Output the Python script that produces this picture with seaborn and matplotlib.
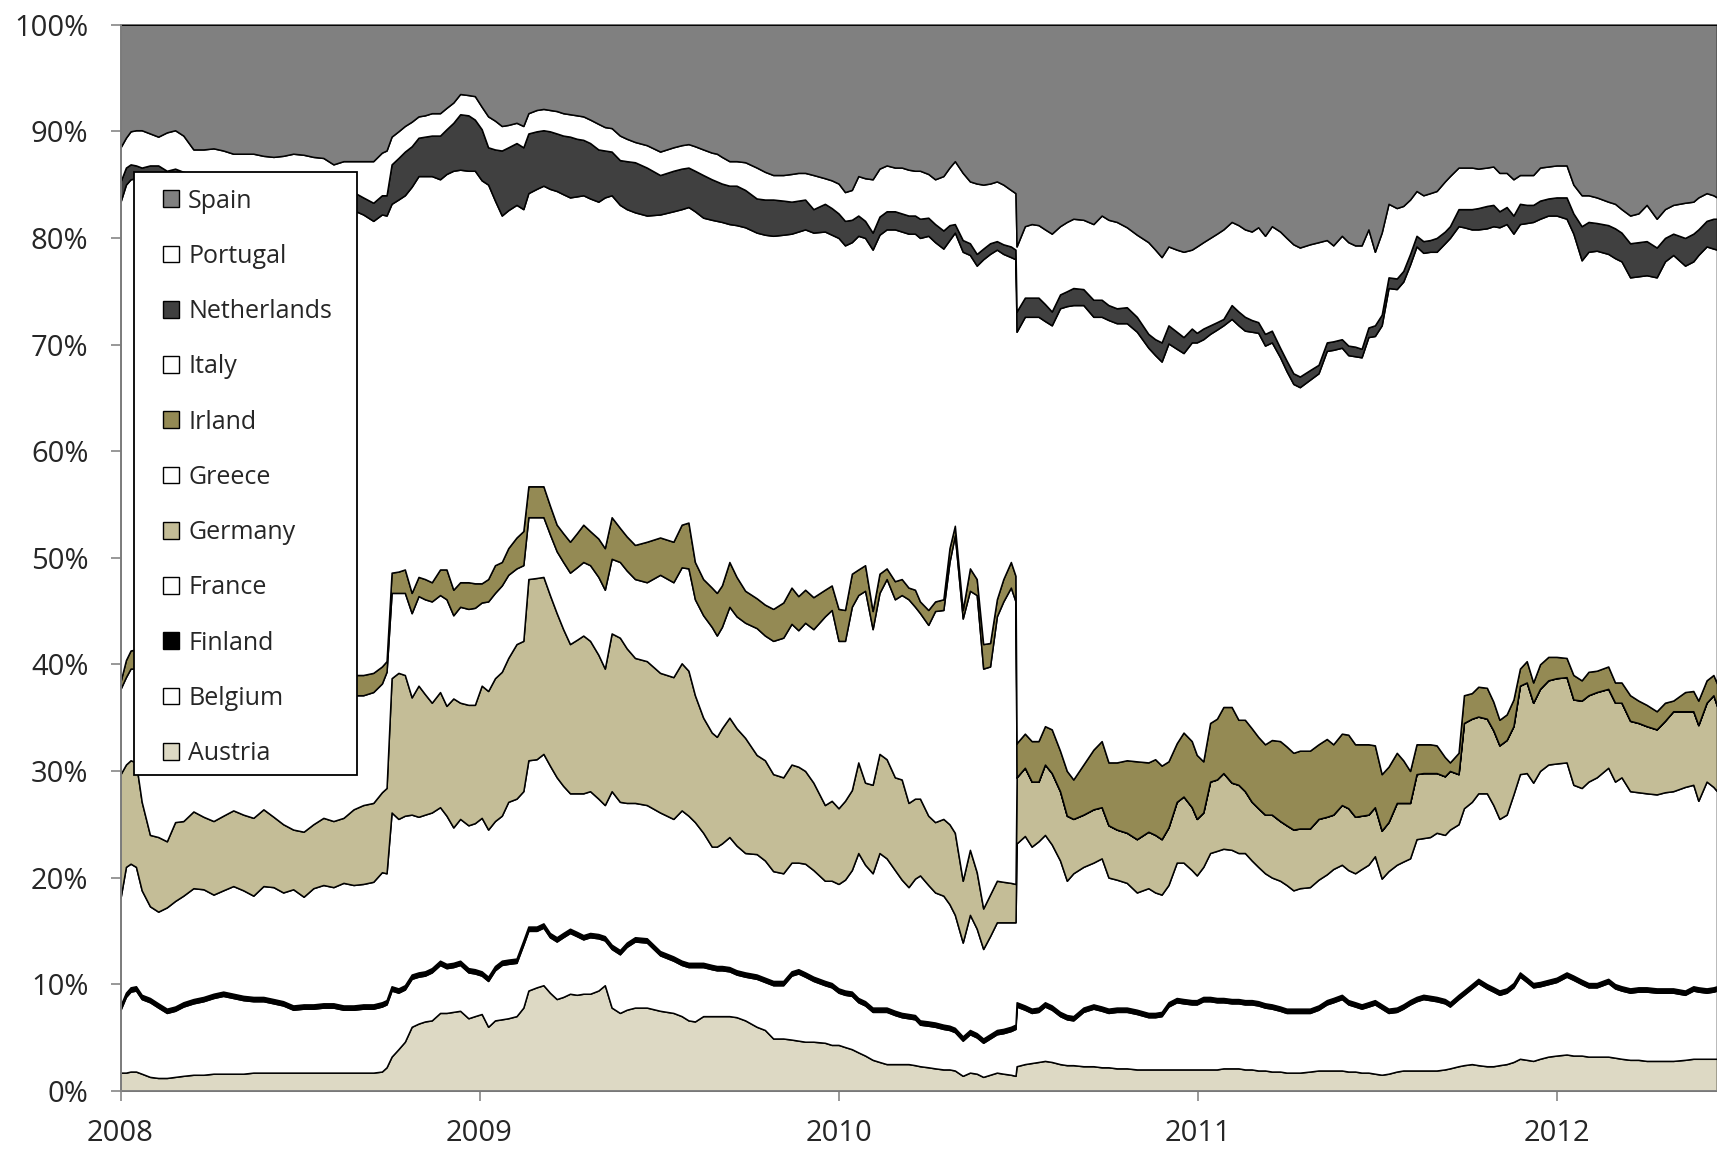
import numpy as np
import matplotlib
matplotlib.use("Agg")
import matplotlib.pyplot as plt
from matplotlib.patches import Patch, Rectangle
import seaborn as sns

# time axis in decimal years (weekly observations)
t = [2008.000, 2008.015, 2008.028, 2008.043, 2008.059, 2008.082, 2008.105, 2008.129, 2008.152, 2008.175,
     2008.203, 2008.231, 2008.259, 2008.286, 2008.314, 2008.342, 2008.370, 2008.398, 2008.426, 2008.453,
     2008.481, 2008.510, 2008.537, 2008.565, 2008.593, 2008.621, 2008.649, 2008.676, 2008.704, 2008.728,
     2008.741, 2008.755, 2008.774, 2008.792, 2008.811, 2008.830, 2008.848, 2008.867, 2008.890, 2008.908,
     2008.927, 2008.946, 2008.969, 2008.987, 2009.006, 2009.024, 2009.043, 2009.062, 2009.080, 2009.103,
     2009.122, 2009.136, 2009.159, 2009.178, 2009.196, 2009.215, 2009.233, 2009.252, 2009.271, 2009.289,
     2009.308, 2009.331, 2009.349, 2009.368, 2009.391, 2009.410, 2009.433, 2009.466,
     2009.503, 2009.540, 2009.563, 2009.582, 2009.600, 2009.623, 2009.647, 2009.661, 2009.675, 2009.696,
     2009.716, 2009.740, 2009.772, 2009.795, 2009.818, 2009.846, 2009.869, 2009.888, 2009.907, 2009.930,
     2009.962, 2009.981, 2010.000, 2010.018, 2010.037, 2010.055, 2010.074, 2010.095, 2010.114, 2010.134,
     2010.157, 2010.176, 2010.195, 2010.213,
     2010.227, 2010.250, 2010.269, 2010.292, 2010.309, 2010.324, 2010.346, 2010.366, 2010.385, 2010.403,
     2010.422, 2010.441, 2010.459, 2010.480, 2010.493, 2010.496, 2010.519, 2010.538, 2010.557, 2010.575,
     2010.594, 2010.617, 2010.636, 2010.654, 2010.682, 2010.710, 2010.733, 2010.752, 2010.775, 2010.803,
     2010.831, 2010.863, 2010.882, 2010.900, 2010.919, 2010.942, 2010.961, 2010.984,
     2010.998, 2011.016, 2011.035, 2011.054, 2011.072, 2011.095, 2011.114, 2011.132, 2011.151, 2011.169,
     2011.188, 2011.207, 2011.230, 2011.248, 2011.267, 2011.285, 2011.313, 2011.337, 2011.360, 2011.378,
     2011.402, 2011.420, 2011.439, 2011.457, 2011.476, 2011.494, 2011.513, 2011.532, 2011.555, 2011.573,
     2011.592, 2011.610, 2011.629, 2011.648, 2011.666,
     2011.689, 2011.703, 2011.727, 2011.742, 2011.764, 2011.782, 2011.806, 2011.824, 2011.841, 2011.861,
     2011.880, 2011.898, 2011.917, 2011.935, 2011.954, 2011.977, 2012.000, 2012.028, 2012.047, 2012.070,
     2012.089, 2012.112, 2012.144, 2012.163, 2012.181, 2012.205, 2012.228, 2012.251, 2012.279, 2012.302,
     2012.325, 2012.358, 2012.381, 2012.395, 2012.418, 2012.437, 2012.447]

# Upper edge (cumulative %) of each country's band, bottom to top
austria_upper = [1.7, 1.7, 1.8, 1.8, 1.6, 1.3, 1.2, 1.2, 1.3, 1.4,
                 1.5, 1.5, 1.6, 1.6, 1.6, 1.6, 1.7, 1.7, 1.7, 1.7,
                 1.7, 1.7, 1.7, 1.7, 1.7, 1.7, 1.7, 1.7, 1.7, 1.8,
                 2.2, 3.2, 3.9, 4.6, 6.0, 6.3, 6.5, 6.6, 7.3, 7.3,
                 7.4, 7.5, 6.8, 7.0, 7.2, 6.0, 6.6, 6.7, 6.8, 7.0,
                 7.8, 9.4, 9.7, 9.9, 9.2, 8.6, 8.8, 9.1, 9.0, 9.1,
                 9.1, 9.4, 9.9, 7.8, 7.3, 7.6, 7.8, 7.8,
                 7.5, 7.3, 7.0, 6.6, 6.5, 7.0, 7.0, 7.0, 7.0, 7.0,
                 6.9, 6.6, 6.0, 5.7, 4.9, 4.9, 4.8, 4.7, 4.6, 4.6,
                 4.5, 4.3, 4.3, 4.1, 3.9, 3.6, 3.3, 2.9, 2.7, 2.5,
                 2.5, 2.5, 2.5, 2.4,
                 2.3, 2.2, 2.1, 2.0, 2.0, 1.9, 1.4, 1.7, 1.6, 1.3,
                 1.5, 1.7, 1.6, 1.5, 1.4, 2.3, 2.5, 2.6, 2.7, 2.8,
                 2.7, 2.5, 2.4, 2.4, 2.3, 2.3, 2.2, 2.2, 2.1, 2.1,
                 2.0, 2.0, 2.0, 2.0, 2.0, 2.0, 2.0, 2.0,
                 2.0, 2.0, 2.0, 2.0, 2.1, 2.1, 2.1, 2.0, 2.0, 1.9,
                 1.9, 1.8, 1.8, 1.7, 1.7, 1.7, 1.8, 1.9, 1.9, 1.9,
                 1.9, 1.8, 1.8, 1.7, 1.7, 1.6, 1.5, 1.6, 1.8, 1.9,
                 1.9, 1.9, 1.9, 1.9, 1.9,
                 2.0, 2.1, 2.3, 2.4, 2.5, 2.4, 2.3, 2.3, 2.4, 2.5,
                 2.7, 3.0, 2.9, 2.8, 3.0, 3.2, 3.3, 3.4, 3.3, 3.3,
                 3.2, 3.2, 3.2, 3.1, 3.0, 2.9, 2.9, 2.8, 2.8, 2.8,
                 2.8, 2.9, 3.0, 3.0, 3.0, 3.0, 3.0]

belgium_upper = [7.6, 8.8, 9.3, 9.4, 8.6, 8.3, 7.8, 7.3, 7.5, 7.9,
                 8.2, 8.4, 8.7, 8.9, 8.7, 8.5, 8.4, 8.4, 8.2, 8.0,
                 7.6, 7.7, 7.7, 7.8, 7.8, 7.6, 7.6, 7.7, 7.7, 7.9,
                 8.1, 9.4, 9.2, 9.5, 10.5, 10.7, 10.8, 11.1, 11.8, 11.5,
                 11.6, 11.8, 11.1, 11.0, 10.8, 10.3, 11.3, 11.8, 11.9, 12.0,
                 13.7, 15.0, 15.0, 15.3, 14.4, 14.0, 14.4, 14.8, 14.5, 14.2,
                 14.4, 14.3, 14.1, 13.3, 12.8, 13.5, 14.0, 13.9,
                 12.7, 12.2, 11.8, 11.6, 11.6, 11.6, 11.4, 11.3, 11.3, 11.2,
                 10.9, 10.7, 10.5, 10.2, 9.9, 9.9, 10.8, 11.0, 10.7, 10.3,
                 9.9, 9.7, 9.2, 9.0, 8.9, 8.3, 8.0, 7.4, 7.4, 7.4,
                 7.1, 6.9, 6.8, 6.7,
                 6.2, 6.1, 6.0, 5.8, 5.7, 5.5, 4.7, 5.3, 5.0, 4.5,
                 4.9, 5.3, 5.4, 5.6, 5.8, 7.9, 7.6, 7.3, 7.4, 7.9,
                 7.6, 7.0, 6.7, 6.6, 7.4, 7.7, 7.5, 7.3, 7.4, 7.4,
                 7.2, 6.9, 6.9, 7.0, 7.9, 8.3, 8.2, 8.1,
                 8.1, 8.4, 8.4, 8.3, 8.3, 8.2, 8.2, 8.1, 8.1, 8.0,
                 7.8, 7.7, 7.5, 7.3, 7.3, 7.3, 7.3, 7.6, 8.1, 8.3,
                 8.6, 8.1, 7.9, 7.7, 7.9, 8.1, 7.7, 7.3, 7.4, 7.7,
                 8.1, 8.4, 8.6, 8.5, 8.4,
                 8.2, 7.9, 8.6, 9.0, 9.6, 10.1, 9.6, 9.3, 9.0, 9.2,
                 9.7, 10.7, 10.2, 9.7, 9.8, 10.0, 10.2, 10.7, 10.4, 10.0,
                 9.7, 9.7, 10.1, 9.6, 9.4, 9.2, 9.3, 9.3, 9.2, 9.2,
                 9.2, 9.0, 9.4, 9.3, 9.2, 9.3, 9.4]

finland_upper = [8.0, 9.2, 9.7, 9.8, 9.0, 8.7, 8.2, 7.7, 7.9, 8.3,
                 8.6, 8.8, 9.1, 9.3, 9.1, 8.9, 8.8, 8.8, 8.6, 8.4,
                 8.0, 8.1, 8.1, 8.2, 8.2, 8.0, 8.0, 8.1, 8.1, 8.3,
                 8.5, 9.8, 9.6, 9.9, 10.9, 11.1, 11.2, 11.5, 12.2, 11.9,
                 12.0, 12.2, 11.5, 11.4, 11.2, 10.7, 11.7, 12.2, 12.3, 12.4,
                 14.1, 15.4, 15.4, 15.7, 14.8, 14.4, 14.8, 15.2, 14.9, 14.6,
                 14.8, 14.7, 14.5, 13.7, 13.2, 13.9, 14.4, 14.3,
                 13.1, 12.6, 12.2, 12.0, 12.0, 12.0, 11.8, 11.7, 11.7, 11.6,
                 11.3, 11.1, 10.9, 10.6, 10.3, 10.3, 11.2, 11.4, 11.1, 10.7,
                 10.3, 10.1, 9.6, 9.4, 9.3, 8.7, 8.4, 7.8, 7.8, 7.8,
                 7.5, 7.3, 7.2, 7.1,
                 6.6, 6.5, 6.4, 6.2, 6.1, 5.9, 5.1, 5.7, 5.4, 4.9,
                 5.3, 5.7, 5.8, 6.0, 6.2, 8.3, 8.0, 7.7, 7.8, 8.3,
                 8.0, 7.4, 7.1, 7.0, 7.8, 8.1, 7.9, 7.7, 7.8, 7.8,
                 7.6, 7.3, 7.3, 7.4, 8.3, 8.7, 8.6, 8.5,
                 8.5, 8.8, 8.8, 8.7, 8.7, 8.6, 8.6, 8.5, 8.5, 8.4,
                 8.2, 8.1, 7.9, 7.7, 7.7, 7.7, 7.7, 8.0, 8.5, 8.7,
                 9.0, 8.5, 8.3, 8.1, 8.3, 8.5, 8.1, 7.7, 7.8, 8.1,
                 8.5, 8.8, 9.0, 8.9, 8.8,
                 8.6, 8.3, 9.0, 9.4, 10.0, 10.5, 10.0, 9.7, 9.4, 9.6,
                 10.1, 11.1, 10.6, 10.1, 10.2, 10.4, 10.6, 11.1, 10.8, 10.4,
                 10.1, 10.1, 10.5, 10.0, 9.8, 9.6, 9.7, 9.7, 9.6, 9.6,
                 9.6, 9.4, 9.8, 9.7, 9.6, 9.7, 9.8]

france_upper = [18.1, 21.0, 21.3, 21.0, 18.8, 17.3, 16.8, 17.2, 17.8, 18.3,
                19.0, 18.9, 18.4, 18.8, 19.2, 18.8, 18.3, 19.2, 19.1, 18.6,
                18.9, 18.2, 19.0, 19.3, 19.1, 19.5, 19.3, 19.4, 19.6, 20.5,
                20.4, 26.1, 25.5, 25.8, 25.9, 25.7, 25.9, 26.1, 26.6, 25.8,
                24.7, 25.5, 24.9, 25.1, 25.6, 24.5, 25.3, 25.8, 27.1, 27.4,
                28.1, 31.0, 31.1, 31.6, 30.5, 29.4, 28.6, 27.9, 27.9, 27.9,
                28.1, 27.4, 26.8, 28.1, 27.1, 27.0, 27.0, 26.8,
                26.1, 25.5, 26.3, 25.8, 25.2, 24.2, 22.9, 22.9, 23.2, 23.8,
                23.0, 22.3, 22.2, 21.6, 20.6, 20.4, 21.4, 21.4, 21.3, 20.7,
                19.7, 19.7, 19.4, 19.8, 20.7, 22.3, 21.2, 20.4, 22.3, 21.8,
                20.7, 19.8, 19.1, 19.9,
                20.2, 19.3, 18.6, 18.3, 17.5, 16.5, 13.9, 16.5, 15.2, 13.3,
                14.5, 15.8, 15.8, 15.8, 15.8, 23.2, 23.9, 22.9, 23.4, 24.0,
                23.1, 21.6, 19.7, 20.4, 21.0, 21.4, 21.8, 20.0, 19.8, 19.5,
                18.6, 19.0, 18.6, 18.4, 19.3, 21.4, 21.4, 20.7,
                20.2, 21.0, 22.3, 22.5, 22.7, 22.6, 22.3, 22.3, 21.6, 21.0,
                20.4, 20.0, 19.7, 19.3, 18.8, 19.0, 19.1, 19.8, 20.3, 20.8,
                21.2, 20.7, 20.4, 20.8, 21.2, 22.0, 19.9, 20.6, 21.2, 21.5,
                21.8, 23.6, 23.7, 23.8, 24.2,
                24.0, 24.5, 25.0, 26.5, 27.1, 27.9, 27.9, 26.8, 25.5, 25.9,
                27.8, 29.7, 29.8, 28.9, 30.0, 30.6, 30.7, 30.8, 28.7, 28.4,
                29.0, 29.4, 30.3, 29.0, 29.4, 28.1, 28.0, 27.9, 27.8, 28.0,
                28.1, 28.5, 28.7, 27.2, 29.0, 28.5, 28.1]

germany_upper = [29.7, 30.6, 31.0, 30.8, 27.1, 24.0, 23.8, 23.4, 25.2, 25.3,
                 26.2, 25.7, 25.3, 25.8, 26.3, 25.9, 25.6, 26.4, 25.7, 25.0,
                 24.5, 24.3, 25.0, 25.6, 25.3, 25.6, 26.4, 26.8, 27.0, 28.0,
                 28.4, 38.7, 39.2, 39.0, 36.9, 38.0, 37.2, 36.4, 37.4, 36.1,
                 36.8, 36.4, 36.2, 36.2, 38.0, 37.5, 38.7, 39.3, 40.6, 41.9,
                 42.2, 48.0, 48.1, 48.2, 46.5, 44.8, 43.3, 41.9, 42.3, 42.7,
                 42.2, 40.9, 39.6, 42.9, 42.5, 41.5, 40.6, 40.3,
                 39.2, 38.8, 40.1, 39.4, 37.1, 35.0, 33.6, 33.2, 34.0, 35.0,
                 34.0, 33.1, 31.5, 31.0, 29.7, 29.4, 30.6, 30.4, 30.0, 28.9,
                 26.8, 27.2, 26.5, 27.2, 28.2, 30.8, 28.9, 28.7, 31.6, 31.1,
                 29.4, 29.2, 27.0, 27.4,
                 27.4, 25.8, 25.2, 25.5, 25.0, 24.2, 19.7, 22.6, 20.5, 17.1,
                 18.4, 19.7, 19.6, 19.5, 19.4, 29.4, 30.3, 29.0, 29.0, 30.6,
                 29.8, 28.1, 25.8, 25.5, 25.9, 26.4, 26.6, 24.9, 24.5, 24.2,
                 23.6, 24.3, 24.0, 23.6, 24.7, 27.1, 27.6, 26.6,
                 25.5, 26.1, 29.0, 29.2, 29.8, 28.9, 28.7, 28.1, 27.1, 26.5,
                 25.9, 25.9, 25.3, 24.9, 24.5, 24.6, 24.6, 25.5, 25.7, 25.9,
                 26.8, 26.5, 25.7, 25.8, 25.9, 26.6, 24.4, 25.2, 27.0, 27.0,
                 27.0, 29.7, 29.8, 29.8, 29.8,
                 29.5, 30.0, 29.7, 34.5, 34.9, 35.1, 34.9, 33.8, 32.4, 32.9,
                 34.2, 38.0, 38.3, 36.4, 37.7, 38.5, 38.7, 38.8, 36.7, 36.6,
                 37.1, 37.4, 37.7, 36.4, 36.4, 34.7, 34.5, 34.2, 33.9, 34.7,
                 35.6, 35.6, 35.6, 34.3, 36.4, 37.1, 36.1]

greece_upper = [37.7, 38.8, 39.6, 39.6, 39.5, 39.3, 39.0, 38.8, 38.9, 39.0,
                38.8, 38.6, 38.5, 38.4, 38.3, 38.2, 38.1, 38.0, 37.9, 37.8,
                37.7, 37.6, 37.5, 37.4, 37.3, 37.2, 37.1, 37.1, 37.4, 38.2,
                39.3, 46.7, 46.7, 46.7, 44.8, 46.4, 46.1, 45.9, 46.5, 46.1,
                44.6, 45.4, 45.2, 45.3, 45.8, 45.9, 46.7, 47.4, 48.4, 49.0,
                49.3, 53.8, 53.8, 53.8, 52.2, 50.6, 49.6, 48.6, 49.1, 49.6,
                49.3, 48.2, 47.0, 49.9, 49.6, 48.8, 48.0, 47.7,
                48.4, 47.7, 49.1, 49.0, 46.1, 44.6, 43.5, 42.7, 43.5, 45.4,
                44.5, 43.9, 43.4, 42.7, 42.2, 42.5, 43.8, 43.2, 43.9, 43.3,
                44.5, 45.1, 42.2, 42.2, 45.4, 46.5, 46.9, 43.3, 46.7, 48.0,
                46.1, 46.5, 46.1, 45.4,
                44.8, 43.7, 45.0, 45.1, 49.6, 52.1, 44.3, 46.9, 46.5, 39.6,
                39.8, 44.5, 45.9, 47.2, 45.9, 29.4, 30.3, 29.0, 29.0, 30.6,
                29.8, 28.1, 25.8, 25.5, 25.9, 26.4, 26.6, 24.9, 24.5, 24.2,
                23.6, 24.3, 24.0, 23.6, 24.7, 27.1, 27.6, 26.6,
                25.5, 26.1, 29.0, 29.2, 29.8, 28.9, 28.7, 28.1, 27.1, 26.5,
                25.9, 25.9, 25.3, 24.9, 24.5, 24.6, 24.6, 25.5, 25.7, 25.9,
                26.8, 26.5, 25.7, 25.8, 25.9, 26.6, 24.4, 25.2, 27.0, 27.0,
                27.0, 29.7, 29.8, 29.8, 29.8,
                29.5, 30.0, 29.7, 34.5, 34.9, 35.1, 34.9, 33.8, 32.4, 32.9,
                34.2, 38.0, 38.3, 36.4, 37.7, 38.5, 38.7, 38.8, 36.7, 36.6,
                37.1, 37.4, 37.7, 36.4, 36.4, 34.7, 34.5, 34.2, 33.9, 34.7,
                35.6, 35.6, 35.6, 34.3, 36.4, 37.1, 36.1]

irland_upper = [38.4, 40.4, 41.3, 41.4, 41.3, 41.1, 40.8, 40.6, 40.7, 40.8,
                40.6, 40.4, 40.2, 40.1, 40.0, 39.9, 39.8, 39.7, 39.6, 39.5,
                39.4, 39.3, 39.2, 39.1, 39.0, 39.0, 39.0, 39.0, 39.2, 39.8,
                40.3, 48.6, 48.7, 48.9, 46.7, 48.2, 48.0, 47.7, 48.9, 48.9,
                47.0, 47.7, 47.7, 47.6, 47.6, 48.0, 49.3, 49.6, 50.9, 51.9,
                52.5, 56.7, 56.7, 56.7, 54.9, 53.1, 52.3, 51.5, 52.3, 53.1,
                52.5, 51.8, 50.9, 53.8, 52.8, 52.0, 51.2, 51.5,
                51.9, 51.5, 53.1, 53.3, 49.6, 48.0, 47.2, 46.7, 47.4, 49.6,
                48.2, 46.9, 46.2, 45.6, 45.2, 45.8, 47.2, 46.4, 47.0, 46.3,
                47.0, 47.4, 45.2, 45.1, 48.5, 48.9, 49.3, 45.0, 48.5, 49.0,
                47.8, 48.0, 47.2, 47.0,
                45.9, 45.1, 45.9, 46.1, 50.9, 53.0, 45.1, 49.0, 48.0, 41.9,
                42.0, 46.1, 48.0, 49.6, 48.3, 32.6, 33.5, 32.8, 32.8, 34.2,
                33.9, 31.9, 30.0, 29.2, 30.6, 32.0, 32.8, 30.8, 30.8, 31.0,
                30.9, 30.8, 31.1, 30.5, 30.9, 32.6, 33.6, 32.8,
                31.5, 30.9, 34.5, 34.9, 36.0, 36.0, 34.8, 34.8, 34.0, 33.2,
                32.5, 32.9, 32.8, 32.3, 31.7, 31.9, 31.9, 32.5, 33.0, 32.5,
                33.5, 33.4, 32.5, 32.5, 32.5, 32.4, 29.7, 30.4, 31.7, 31.0,
                30.0, 32.5, 32.5, 32.5, 32.4,
                31.3, 30.8, 31.7, 37.1, 37.3, 37.9, 37.8, 36.5, 34.8, 35.3,
                36.7, 39.6, 40.3, 38.3, 40.0, 40.7, 40.7, 40.6, 39.0, 38.5,
                39.3, 39.4, 39.8, 38.3, 38.3, 37.1, 36.6, 36.2, 35.6, 36.4,
                36.6, 37.4, 37.5, 36.6, 38.5, 39.0, 38.2]

italy_upper = [83.4, 85.0, 85.5, 85.6, 85.4, 85.3, 85.2, 85.0, 85.0, 84.8,
               84.5, 84.3, 84.2, 84.0, 83.9, 83.8, 83.7, 83.6, 83.5, 83.4,
               83.3, 83.2, 83.1, 83.0, 82.9, 82.8, 82.6, 82.2, 81.6, 82.2,
               82.1, 83.2, 83.6, 84.0, 84.8, 85.8, 85.8, 85.8, 85.5, 86.0,
               86.3, 86.4, 86.3, 86.3, 85.4, 85.0, 83.5, 82.1, 82.6, 83.1,
               82.7, 84.2, 84.6, 84.9, 84.6, 84.4, 84.1, 83.8, 83.9, 84.0,
               83.7, 83.4, 83.8, 84.0, 83.1, 82.7, 82.4, 82.1,
               82.2, 82.5, 82.7, 82.9, 82.5, 81.9, 81.7, 81.6, 81.5, 81.3,
               81.2, 81.0, 80.5, 80.3, 80.2, 80.3, 80.4, 80.6, 80.8, 80.5,
               80.6, 80.3, 80.0, 79.3, 79.6, 80.2, 80.0, 78.9, 80.3, 80.8,
               80.8, 80.6, 80.4, 80.4,
               80.0, 80.2, 79.6, 79.0, 79.8, 80.5, 78.7, 78.4, 77.4, 78.0,
               78.5, 78.9, 78.5, 78.2, 78.0, 71.2, 72.6, 72.6, 72.6, 72.2,
               71.8, 73.4, 73.6, 73.7, 73.7, 72.6, 72.6, 72.3, 72.0, 72.0,
               71.2, 69.7, 69.0, 68.4, 70.1, 69.6, 69.2, 70.2,
               70.2, 70.5, 71.0, 71.4, 71.8, 72.4, 71.8, 71.3, 71.2, 71.1,
               69.9, 70.2, 68.8, 67.5, 66.3, 66.0, 66.7, 67.3, 69.4, 69.5,
               69.7, 69.0, 68.9, 68.8, 70.7, 70.8, 71.8, 75.3, 75.2, 75.9,
               77.5, 79.2, 78.6, 78.7, 78.7,
               79.5, 80.0, 81.1, 81.0, 80.8, 80.8, 80.9, 81.1, 81.0, 81.3,
               80.4, 81.3, 81.4, 81.5, 81.8, 82.1, 82.1, 81.8, 80.4, 77.9,
               78.7, 78.8, 78.5, 78.1, 77.8, 76.3, 76.4, 76.5, 76.3, 77.8,
               78.4, 77.4, 77.8, 78.4, 79.2, 79.0, 78.9]

netherlands_upper = [85.3, 86.6, 86.9, 86.8, 86.6, 86.8, 86.8, 86.3, 86.5, 86.2,
                     86.0, 85.8, 85.7, 85.5, 85.4, 85.3, 85.2, 85.1, 85.0, 84.9,
                     84.8, 84.7, 84.6, 84.5, 84.4, 84.3, 84.3, 83.8, 83.3, 84.0,
                     84.0, 86.9, 87.5, 88.1, 88.6, 89.4, 89.5, 89.6, 89.6, 90.2,
                     90.8, 91.6, 91.5, 91.1, 90.2, 88.5, 88.3, 88.2, 88.5, 88.9,
                     88.5, 89.8, 90.0, 90.1, 90.0, 89.8, 89.6, 89.5, 89.3, 89.2,
                     88.9, 88.3, 88.2, 88.1, 87.3, 87.2, 87.1, 86.6,
                     85.9, 86.3, 86.5, 86.6, 86.3, 85.9, 85.5, 85.3, 85.1, 84.9,
                     84.9, 84.5, 83.7, 83.6, 83.6, 83.5, 83.4, 83.5, 83.6, 82.7,
                     83.2, 82.8, 82.3, 81.6, 81.7, 82.1, 81.6, 80.5, 82.0, 82.5,
                     82.5, 82.3, 82.1, 82.1,
                     81.8, 81.9, 81.3, 80.7, 81.2, 81.3, 79.8, 79.5, 78.5, 79.0,
                     79.5, 79.7, 79.4, 79.2, 78.9, 73.1, 74.4, 74.4, 74.4, 73.8,
                     73.1, 74.7, 75.0, 75.3, 75.2, 74.2, 74.2, 73.7, 73.4, 73.5,
                     72.6, 71.0, 70.5, 70.2, 71.8, 71.2, 70.7, 71.5,
                     71.1, 71.5, 71.8, 72.1, 72.4, 73.7, 73.1, 72.6, 72.3, 72.1,
                     71.0, 71.3, 69.7, 68.5, 67.3, 67.0, 67.6, 68.1, 70.2, 70.3,
                     70.5, 69.9, 69.8, 69.6, 71.6, 71.8, 72.8, 76.3, 76.2, 76.9,
                     78.5, 80.2, 79.7, 79.8, 80.0,
                     80.6, 81.1, 82.7, 82.7, 82.7, 82.8, 83.0, 83.1, 82.5, 82.9,
                     82.1, 83.2, 83.1, 83.1, 83.5, 83.7, 83.8, 83.8, 82.3, 81.1,
                     81.5, 81.4, 81.2, 80.9, 80.5, 79.5, 79.6, 79.7, 79.1, 80.0,
                     80.4, 80.0, 80.4, 80.8, 81.6, 81.8, 81.8]

portugal_upper = [88.5, 89.4, 90.0, 90.1, 90.1, 89.8, 89.5, 89.9, 90.1, 89.6,
                  88.3, 88.3, 88.4, 88.2, 87.9, 87.9, 87.9, 87.7, 87.6, 87.7,
                  87.9, 87.8, 87.6, 87.5, 86.9, 87.2, 87.2, 87.2, 87.2, 88.0,
                  88.2, 89.5, 90.0, 90.5, 90.9, 91.4, 91.5, 91.7, 91.7, 92.2,
                  92.7, 93.5, 93.4, 93.3, 92.3, 91.4, 91.0, 90.5, 90.6, 90.8,
                  90.5, 91.7, 92.0, 92.1, 92.0, 91.9, 91.7, 91.6, 91.5, 91.4,
                  91.1, 90.7, 90.4, 90.3, 89.6, 89.3, 89.0, 88.7,
                  88.1, 88.5, 88.7, 88.8, 88.6, 88.3, 88.0, 87.9, 87.6, 87.2,
                  87.2, 87.1, 86.6, 86.2, 85.9, 85.9, 86.0, 86.1, 86.1, 85.9,
                  85.6, 85.4, 85.1, 84.3, 84.5, 85.8, 85.6, 85.5, 86.5, 86.8,
                  86.6, 86.6, 86.4, 86.3,
                  86.3, 86.0, 85.5, 85.8, 86.6, 87.2, 86.1, 85.3, 85.1, 85.0,
                  85.1, 85.3, 85.0, 84.5, 84.2, 79.2, 81.1, 81.3, 81.2, 80.8,
                  80.4, 81.1, 81.5, 81.8, 81.7, 81.3, 82.1, 81.7, 81.5, 81.0,
                  80.3, 79.6, 78.9, 78.2, 79.2, 78.9, 78.7, 78.9,
                  79.2, 79.6, 80.0, 80.4, 80.8, 81.5, 81.2, 80.8, 80.6, 81.0,
                  80.2, 81.1, 80.6, 80.0, 79.4, 79.1, 79.4, 79.6, 79.8, 79.3,
                  80.2, 79.6, 79.3, 79.3, 80.8, 78.7, 80.5, 83.2, 82.8, 83.0,
                  83.6, 84.4, 84.0, 84.2, 84.4,
                  85.3, 85.8, 86.6, 86.6, 86.6, 86.5, 86.6, 86.7, 86.1, 86.1,
                  85.5, 85.9, 85.9, 85.9, 86.6, 86.7, 86.8, 86.8, 85.0, 84.0,
                  84.0, 83.8, 83.4, 83.2, 82.7, 82.1, 82.3, 83.1, 81.8, 82.7,
                  83.1, 83.3, 83.4, 83.8, 84.2, 84.0, 83.8]

countries = ["Austria", "Belgium", "Finland", "France", "Germany", "Greece",
             "Irland", "Italy", "Netherlands", "Portugal", "Spain"]
colors = ["#ddd9c4", "#ffffff", "#000000", "#ffffff", "#c4bd97", "#ffffff",
          "#948a54", "#ffffff", "#404040", "#ffffff", "#808080"]
year_ticks = [2008, 2009, 2010, 2011, 2012]
pct_ticks = list(range(0, 101, 10))

sns.set_theme(style="ticks")
plt.rcParams["font.family"] = ["Open Sans", "DejaVu Sans"]

n = len(t)
uppers = [austria_upper, belgium_upper, finland_upper, france_upper, germany_upper,
          greece_upper, irland_upper, italy_upper, netherlands_upper, portugal_upper]
for u in uppers:
    assert len(u) == n, len(u)
edges = np.vstack([np.zeros(n)] + [np.asarray(u, float) for u in uppers] + [np.full(n, 100.0)])
shares = np.clip(np.diff(edges, axis=0), 0, None)

fig = plt.figure(figsize=(17.17, 11.49), dpi=100)
ax = fig.add_axes([0.0702, 0.0507, 0.9298, 0.9278])
polys = ax.stackplot(t, shares, colors=colors, edgecolor="black", linewidth=1.1)
for p in polys:
    p.set_clip_on(False)

ax.set_xlim(2008, 2012.447)
ax.set_ylim(0, 100)
ax.set_xticks(year_ticks)
ax.set_xticklabels([str(y) for y in year_ticks], fontsize=21)
ax.set_yticks(pct_ticks)
ax.set_yticklabels([f"{p}%" for p in pct_ticks], fontsize=21)
ax.tick_params(axis="y", direction="out", length=7, width=1.2, color="#868686", pad=16)
ax.tick_params(axis="x", direction="out", length=7, width=1.2, color="#868686", pad=13)
for s in ["top", "right"]:
    ax.spines[s].set_visible(False)
for s in ["left", "bottom"]:
    ax.spines[s].set_color("#868686")
    ax.spines[s].set_linewidth(1.3)
    ax.spines[s].set_zorder(3)
ax.grid(False)

# legend box
frame = Rectangle((0.00846, 0.296), 0.1395, 0.5658, transform=ax.transAxes,
                  facecolor="white", edgecolor="black", linewidth=1.3, zorder=4)
ax.add_patch(frame)
handles = [Patch(facecolor=c, edgecolor="black", linewidth=1.0, label=l)
           for l, c in zip(countries, colors)][::-1]
leg = ax.legend(handles=handles, loc="upper left", bbox_to_anchor=(0.0266, 0.8463),
                frameon=False, fontsize=18, borderpad=0, borderaxespad=0,
                handlelength=0.65, handleheight=0.65, handletextpad=0.36,
                labelspacing=1.21)
leg.set_zorder(5)

fig.savefig("out.png", dpi=100)
